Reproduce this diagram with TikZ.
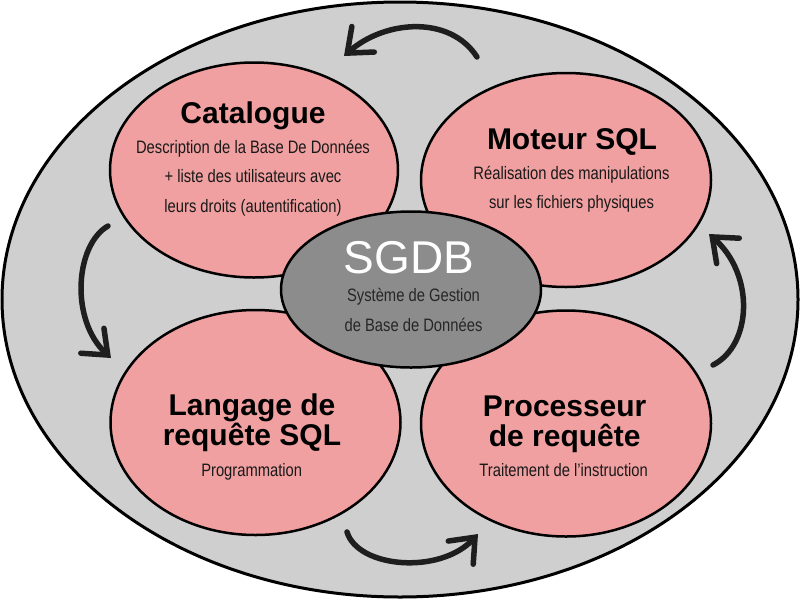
\documentclass[tikz,border=0pt]{standalone}
\usepackage{fontspec}
\setmainfont{Liberation Sans}
\newfontfamily\narrowf[FakeStretch=0.82]{Liberation Sans}
\usetikzlibrary{shapes.geometric,arrows.meta}
\definecolor{outergrey}{RGB}{207,207,207}
\definecolor{pinkfill}{RGB}{240,160,160}
\definecolor{coregrey}{RGB}{140,140,140}
\definecolor{arrowcol}{RGB}{30,30,30}
\tikzset{
  outerell/.style={ellipse,draw=black,line width=3pt,fill=outergrey,inner sep=0pt},
  partell/.style={ellipse,draw=black,line width=2.5pt,fill=pinkfill,inner sep=0pt},
  coreell/.style={ellipse,draw=black,line width=2.5pt,fill=coregrey,inner sep=0pt},
  titletext/.style={anchor=base,inner sep=0pt,font=\bfseries\fontsize{30}{30}\selectfont},
  desctext/.style={anchor=base,inner sep=0pt,text=black!90,font=\narrowf\fontsize{18}{20}\selectfont},
  coretitle/.style={anchor=base,inner sep=0pt,text=white,font=\fontsize{46}{46}\selectfont},
  coredesc/.style={anchor=base,inner sep=0pt,text=black!85,font=\narrowf\fontsize{18}{20}\selectfont},
  cyclearrow/.style={draw=arrowcol,line width=5.5pt,line cap=round,
    -{Straight Barb[length=21pt,width=34pt,line cap=round]}}
}
\begin{document}
\begin{tikzpicture}[x=1pt,y=-1pt]
\useasboundingbox (0,0) rectangle (800,600);
\node[outerell,minimum width=796pt,minimum height=595pt] (outer) at (400,299.5) {};
\node[partell,minimum width=288pt,minimum height=215pt] (cat) at (254,170) {};
\node[partell,minimum width=290pt,minimum height=214pt] (mot) at (566,180) {};
\node[partell,minimum width=290pt,minimum height=225pt] (lang) at (255.5,422.5) {};
\node[partell,minimum width=290pt,minimum height=226pt] (proc) at (566,423.5) {};
\node[coreell,minimum width=260pt,minimum height=156pt] (core) at (411,289.5) {};
% texts
\node[titletext] (catT) at (253,123) {Catalogue};
\node[desctext] (catD1) at (253,153) {Description de la Base De Données};
\node[desctext] (catD2) at (253,182.7) {+ liste des utilisateurs avec};
\node[desctext] (catD3) at (253,212.5) {leurs droits (autentification)};
\node[titletext] (motT) at (572,149) {Moteur SQL};
\node[desctext] (motD1) at (571.5,179) {Réalisation des manipulations};
\node[desctext] (motD2) at (571.5,208.5) {sur les fichiers physiques};
\node[titletext] (langT1) at (252,415) {Langage de};
\node[titletext] (langT2) at (252,445.5) {requête SQL};
\node[desctext] (langD) at (251.7,476) {Programmation};
\node[titletext] (procT1) at (564.7,416.7) {Processeur};
\node[titletext] (procT2) at (564.7,446.7) {de requête};
\node[desctext] (procD) at (563.7,476.7) {Traitement de l’instruction};
\node[coretitle] (coreT) at (409,273.3) {SGDB};
\node[coredesc] (coreD1) at (413.5,301.7) {Système de Gestion};
\node[coredesc] (coreD2) at (413.5,331.5) {de Base de Données};
% cycle arrows
\coordinate (a1s) at (477,57);
\coordinate (a1e) at (344,56);
\coordinate (a2s) at (108,226);
\coordinate (a2e) at (111,358);
\coordinate (a3s) at (347,532);
\coordinate (a3e) at (478,534);
\coordinate (a4s) at (713,365);
\coordinate (a4e) at (709,234);
\draw[cyclearrow] (a1s) .. controls (450,15) and (385,20) .. (a1e);
\draw[cyclearrow] (a2s) .. controls (75,245) and (70,320) .. (a2e);
\draw[cyclearrow] (a3s) .. controls (358,568) and (440,575) .. (a3e);
\draw[cyclearrow] (a4s) .. controls (752,345) and (755,275) .. (a4e);
\end{tikzpicture}
\end{document}
